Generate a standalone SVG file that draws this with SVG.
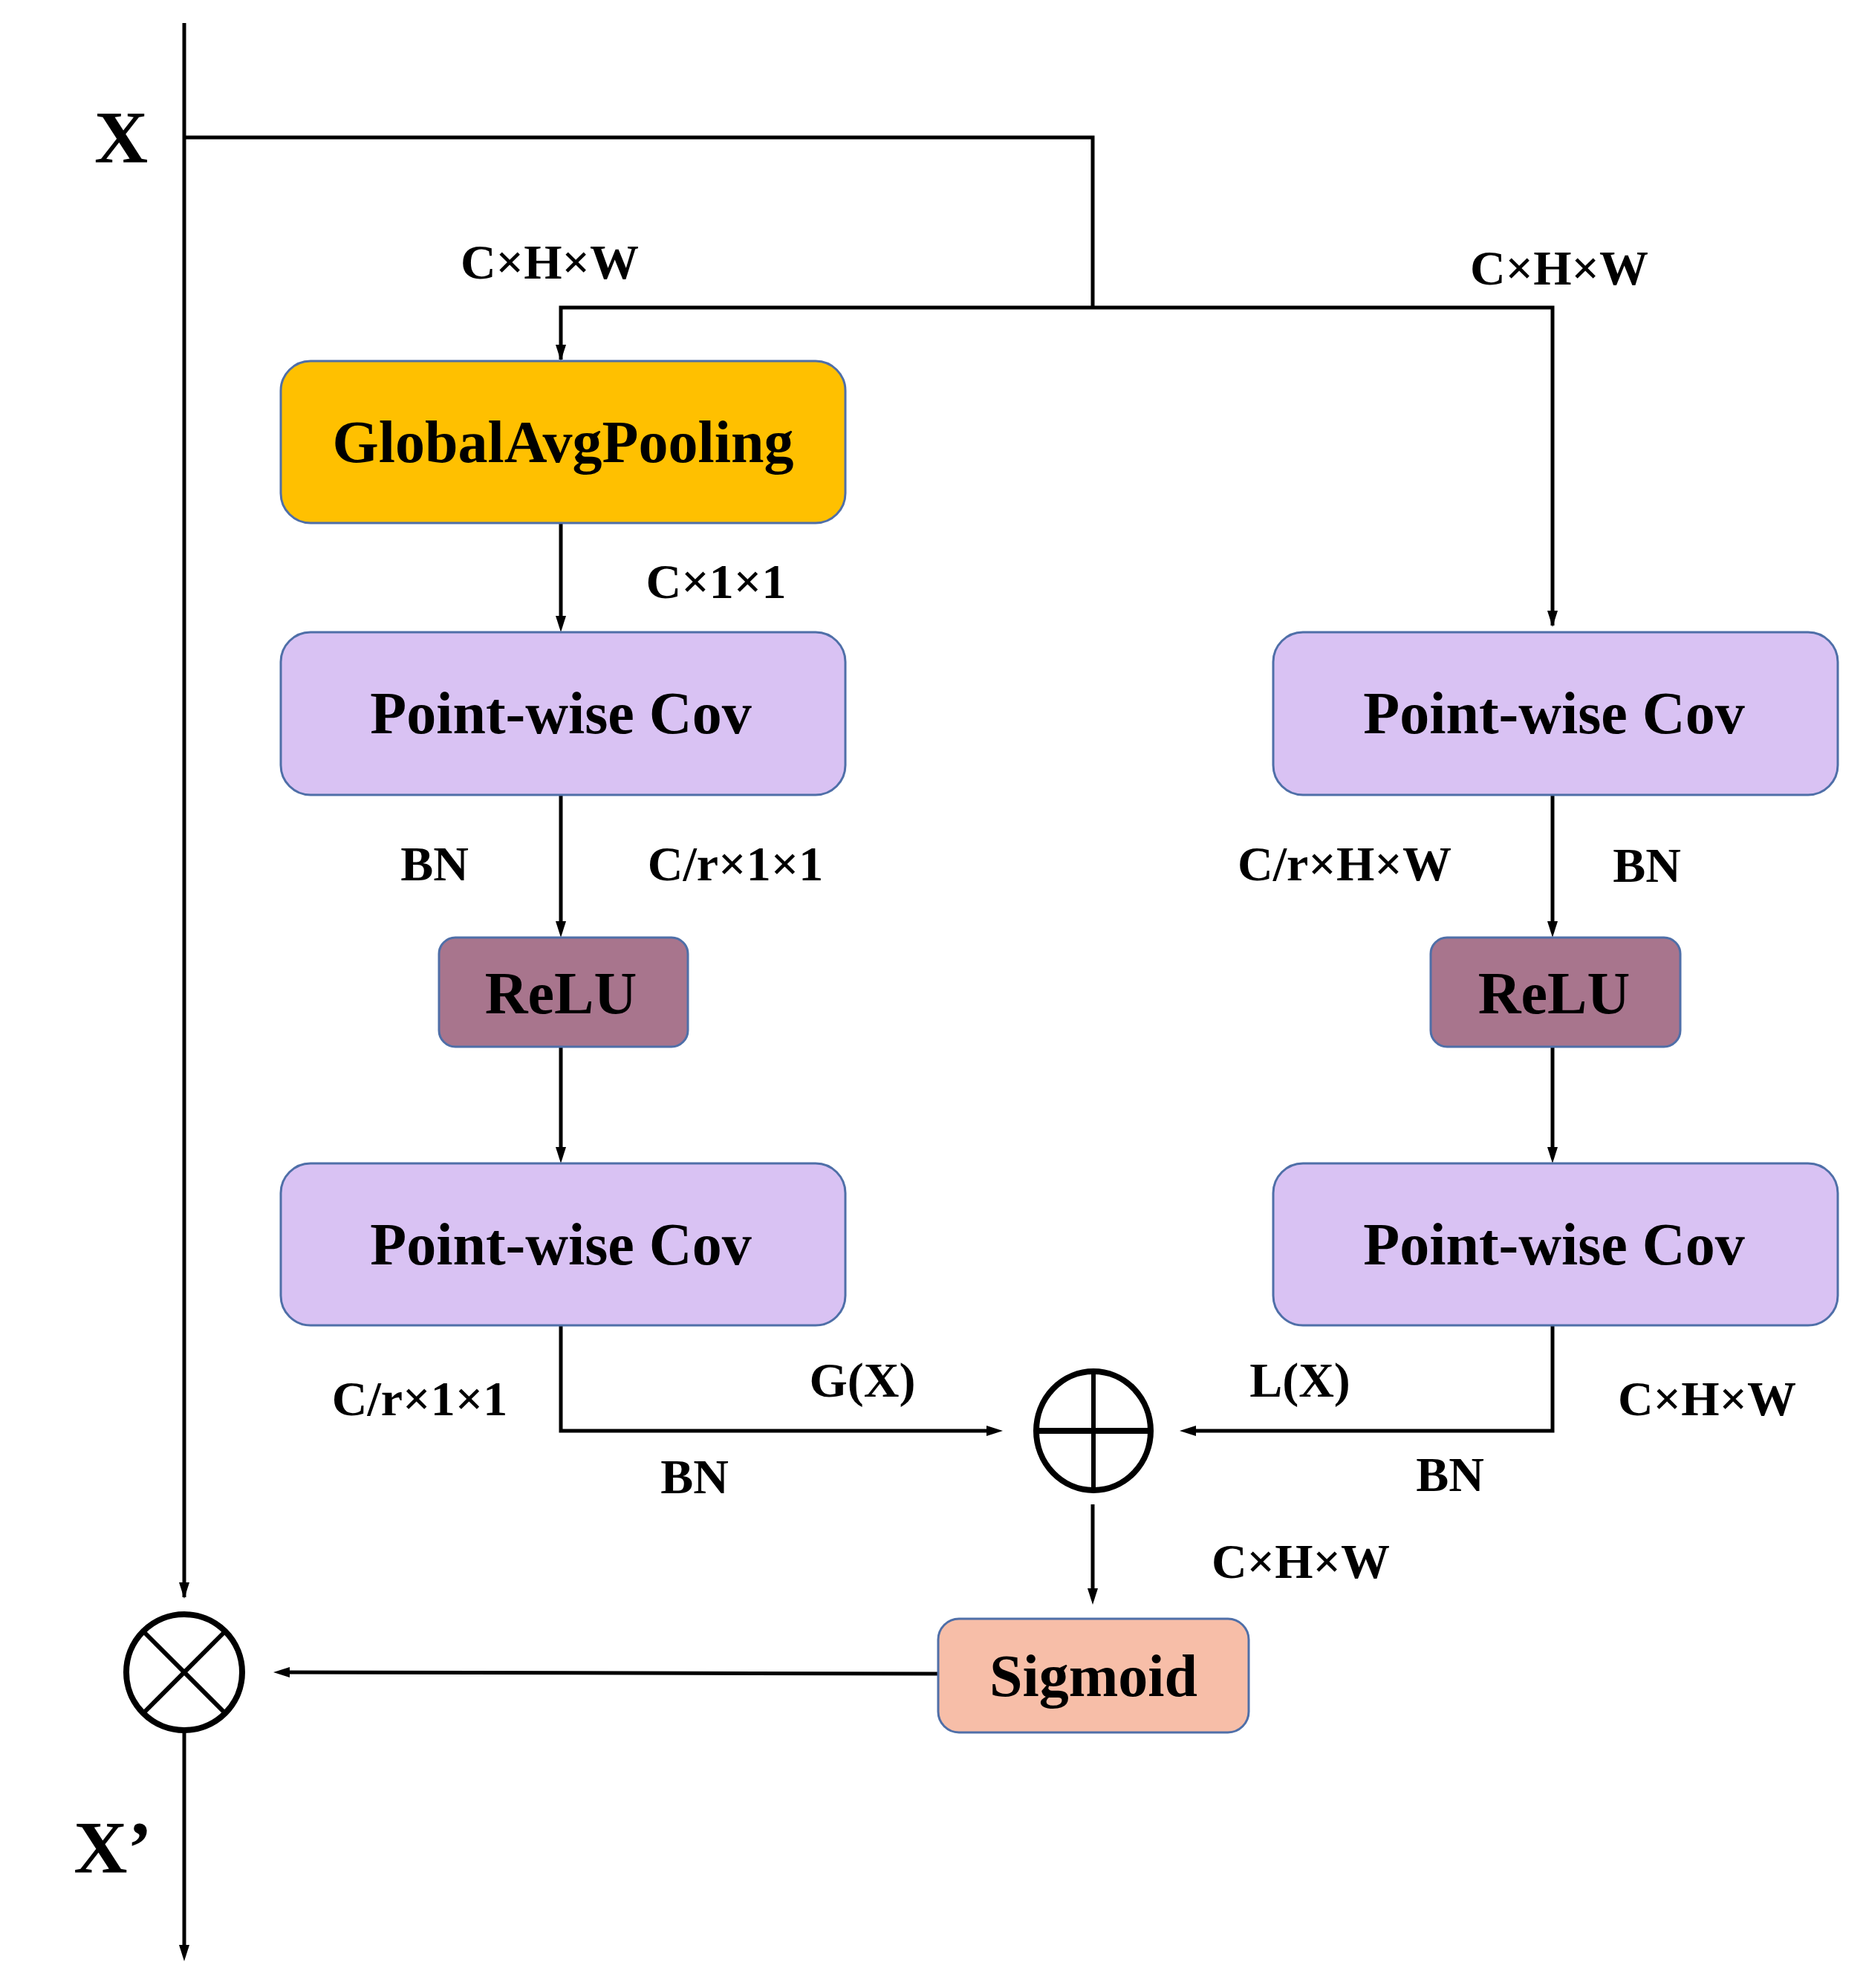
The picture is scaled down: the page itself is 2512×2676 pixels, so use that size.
<svg xmlns="http://www.w3.org/2000/svg" width="2512" height="2676" viewBox="0 0 2512 2676">
<style>
.box{stroke:#4f6fa8;stroke-width:3}
.t{font-family:"Liberation Serif",serif;font-weight:bold;text-anchor:middle;fill:#000}
.bt{font-size:80px}
.lb{font-size:66px}
.ln{fill:none;stroke:#000;stroke-width:5}
</style>
<defs>
<marker id="a" viewBox="0 0 10 10" refX="10" refY="5" markerWidth="5" markerHeight="5" orient="auto" markerUnits="userSpaceOnUse" style="overflow:visible">
<path d="M0,0 L10,5 L0,10 z" fill="#000" transform="scale(2.2) translate(-5.5,-2.7)"/>
</marker>
</defs>
<rect width="2512" height="2676" fill="#fff"/>
<g id="connectors">
<line class="ln" x1="248" y1="31" x2="248" y2="2150"/>
<path d="M241,2130 L255,2130 L248,2152 z"/>
<line class="ln" x1="248" y1="2332" x2="248" y2="2630"/>
<path d="M241,2618 L255,2618 L248,2640 z"/>
<polyline class="ln" points="248,185 1471,185 1471,414"/>
<polyline class="ln" points="755,484 755,414 2090,414 2090,842"/>
<path d="M748,464 L762,464 L755,486 z"/>
<path d="M2083,822 L2097,822 L2090,844 z"/>
<line class="ln" x1="755" y1="704" x2="755" y2="830"/>
<path d="M748,829 L762,829 L755,851 z"/>
<line class="ln" x1="755" y1="1070" x2="755" y2="1240"/>
<path d="M748,1240 L762,1240 L755,1262 z"/>
<line class="ln" x1="2090" y1="1070" x2="2090" y2="1240"/>
<path d="M2083,1240 L2097,1240 L2090,1262 z"/>
<line class="ln" x1="755" y1="1409" x2="755" y2="1545"/>
<path d="M748,1544 L762,1544 L755,1566 z"/>
<line class="ln" x1="2090" y1="1409" x2="2090" y2="1545"/>
<path d="M2083,1544 L2097,1544 L2090,1566 z"/>
<polyline class="ln" points="755,1784 755,1926 1330,1926"/>
<path d="M1328,1919 L1328,1933 L1350,1926 z"/>
<polyline class="ln" points="2090,1784 2090,1926 1608,1926"/>
<path d="M1610,1919 L1610,1933 L1588,1926 z"/>
<line class="ln" x1="1471" y1="2025" x2="1471" y2="2140"/>
<path d="M1464,2138 L1478,2138 L1471,2160 z"/>
<line class="ln" x1="1263" y1="2253" x2="388" y2="2251"/>
<path d="M390,2244 L390,2258 L368,2251 z"/>
</g>
<g id="in"><text class="t" x="163" y="218" font-size="100">X</text></g>
<g id="out"><text class="t" x="152" y="2520" font-size="100">X’</text></g>
<g id="gap"><rect class="box" x="378" y="486" width="760" height="218" rx="40" fill="#FFC000"/><text class="t bt" x="758" y="622">GlobalAvgPooling</text></g>
<g id="pwc1l"><rect class="box" x="378" y="851" width="760" height="219" rx="40" fill="#D9C2F3"/><text class="t bt" x="755" y="987">Point-wise Cov</text></g>
<g id="pwc1r"><rect class="box" x="1714" y="851" width="760" height="219" rx="40" fill="#D9C2F3"/><text class="t bt" x="2092" y="987">Point-wise Cov</text></g>
<g id="relul"><rect class="box" x="591" y="1262" width="335" height="147" rx="22" fill="#A8758D"/><text class="t bt" x="755" y="1364">ReLU</text></g>
<g id="relur"><rect class="box" x="1926" y="1262" width="336" height="147" rx="22" fill="#A8758D"/><text class="t bt" x="2092" y="1364">ReLU</text></g>
<g id="pwc2l"><rect class="box" x="378" y="1566" width="760" height="218" rx="40" fill="#D9C2F3"/><text class="t bt" x="755" y="1702">Point-wise Cov</text></g>
<g id="pwc2r"><rect class="box" x="1714" y="1566" width="760" height="218" rx="40" fill="#D9C2F3"/><text class="t bt" x="2092" y="1702">Point-wise Cov</text></g>
<g id="sigmoid"><rect class="box" x="1263" y="2179" width="418" height="153" rx="28" fill="#F7BEA8"/><text class="t bt" x="1472" y="2283">Sigmoid</text></g>
<g id="plus"><ellipse cx="1472" cy="1926" rx="77" ry="80" fill="none" stroke="#000" stroke-width="8"/><line x1="1395" y1="1926" x2="1549" y2="1926" stroke="#000" stroke-width="8"/><line x1="1472" y1="1846" x2="1472" y2="2006" stroke="#000" stroke-width="6"/></g>
<g id="times"><circle cx="248" cy="2251" r="78" fill="#fff" stroke="#000" stroke-width="8"/><line x1="193" y1="2196" x2="303" y2="2306" stroke="#000" stroke-width="6"/><line x1="303" y1="2196" x2="193" y2="2306" stroke="#000" stroke-width="6"/></g>
<g id="labels">
<text class="t lb" x="740" y="375">C×H×W</text>
<text class="t lb" x="2099" y="383">C×H×W</text>
<text class="t lb" x="964" y="805">C×1×1</text>
<text class="t lb" x="585" y="1185">BN</text>
<text class="t lb" x="990" y="1185">C/r×1×1</text>
<text class="t lb" x="1810" y="1185">C/r×H×W</text>
<text class="t lb" x="2217" y="1187">BN</text>
<text class="t lb" x="565" y="1905">C/r×1×1</text>
<text class="t lb" x="1161" y="1880">G(X)</text>
<text class="t lb" x="935" y="2010">BN</text>
<text class="t lb" x="1750" y="1880">L(X)</text>
<text class="t lb" x="2298" y="1905">C×H×W</text>
<text class="t lb" x="1952" y="2007">BN</text>
<text class="t lb" x="1751" y="2124">C×H×W</text>
</g>
</svg>
